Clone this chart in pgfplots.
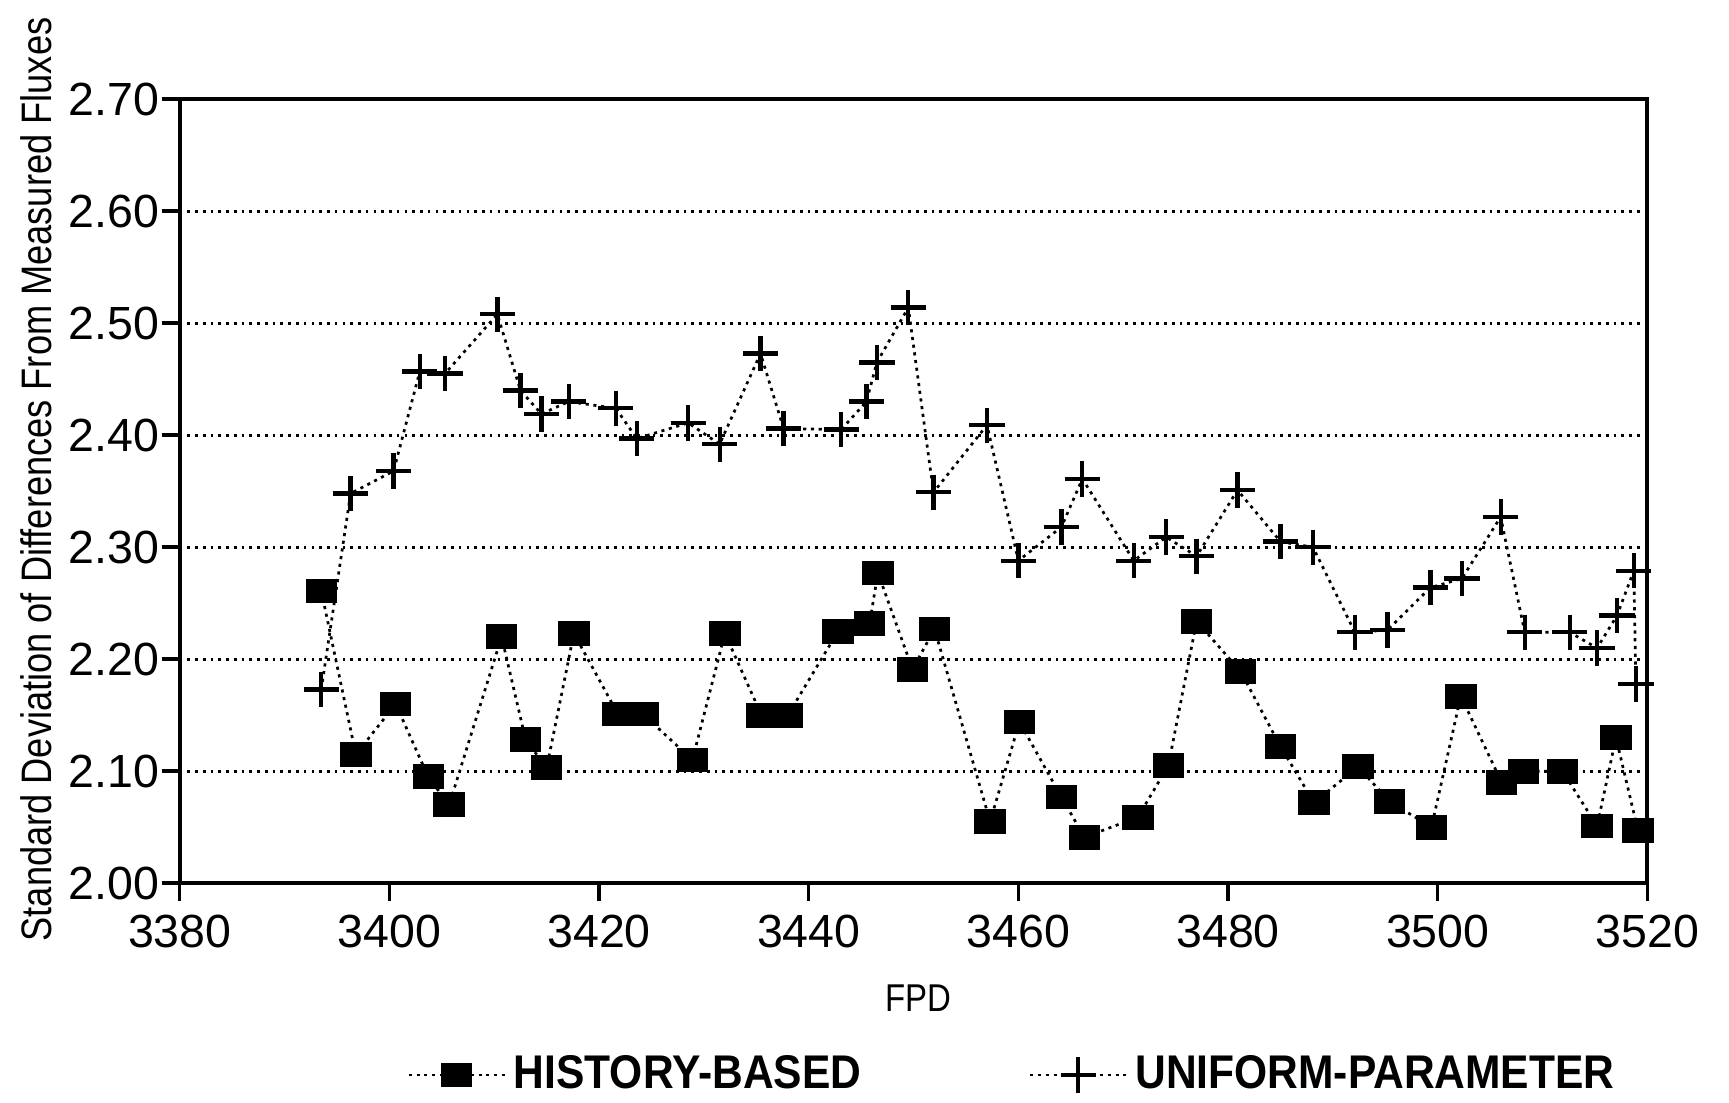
\documentclass[border=0pt]{standalone}
\usepackage{fontspec}
\setmainfont{Liberation Sans}
\newfontfamily\condfont[FakeStretch=0.85]{Liberation Sans}
\newfontfamily\legfont[FakeStretch=0.9]{Liberation Sans}
\usepackage{pgfplots}
\pgfplotsset{compat=1.18}
\pgfplotstableread{
x y
3393.5 2.261
3396.8 2.115
3400.6 2.160
3403.7 2.095
3405.7 2.070
3410.7 2.220
3413.0 2.128
3415.0 2.103
3417.6 2.223
3421.8 2.151
3424.2 2.151
3428.9 2.110
3432.0 2.223
3435.5 2.150
3438.0 2.150
3442.8 2.225
3445.8 2.232
3446.6 2.277
3449.9 2.191
3452.0 2.227
3457.3 2.055
3460.1 2.144
3464.1 2.077
3466.3 2.041
3471.4 2.059
3474.3 2.105
3477.0 2.234
3481.2 2.189
3485.0 2.122
3488.2 2.072
3492.4 2.104
3495.4 2.073
3499.4 2.050
3502.2 2.167
3506.1 2.090
3508.2 2.100
3511.9 2.100
3515.2 2.051
3517.0 2.130
3519.1 2.047
}\history
\pgfplotstableread{
x y
3393.5 2.173
3396.3 2.348
3400.4 2.368
3402.9 2.457
3405.3 2.455
3410.3 2.508
3412.5 2.440
3414.5 2.419
3417.1 2.430
3421.6 2.424
3423.6 2.397
3428.5 2.411
3431.5 2.392
3435.4 2.473
3437.6 2.406
3443.1 2.405
3445.5 2.430
3446.5 2.465
3449.5 2.514
3451.9 2.349
3457.0 2.409
3460.0 2.288
3464.1 2.318
3466.1 2.361
3471.0 2.288
3474.1 2.309
3477.0 2.292
3480.9 2.351
3485.0 2.305
3488.1 2.300
3492.1 2.224
3495.2 2.226
3499.3 2.264
3502.3 2.272
3506.0 2.327
3508.3 2.224
3512.6 2.224
3515.2 2.210
3517.1 2.239
3518.7 2.279
3518.9 2.178
}\uniform
\begin{document}
\begin{tikzpicture}
\begin{axis}[
  name=main,
  scale only axis, width=133.1mm, height=71.1mm,
  xmin=3380, xmax=3520, ymin=2.0, ymax=2.7,
  xtick={3380,3400,3420,3440,3460,3480,3500,3520},
  ytick={2.0,2.1,2.2,2.3,2.4,2.5,2.6,2.7},
  /pgf/number format/assume math mode=true,
  xticklabel style={/pgf/number format/set thousands separator={}},
  yticklabel style={/pgf/number format/.cd, fixed, fixed zerofill, precision=2, /tikz/.cd, xshift=1mm},
  tick label style={font=\fontsize{12}{14}\selectfont},
  tick align=outside, xtick pos=left, ytick pos=left,
  major tick length=1.6mm,
  tick style={line width=0.9pt, black},
  axis line style={line width=1pt},
  ymajorgrids,
  grid style={line width=0.7pt, black, dash pattern=on 0.7pt off 1.3pt},
  xlabel={FPD},
  ylabel={Standard Deviation of Differences From Measured Fluxes},
  every axis x label/.style={at={(axis description cs:0.503,0)}, anchor=center, yshift=-10.4mm, font=\condfont\fontsize{10}{12}\selectfont},
  every axis y label/.style={at={(axis description cs:-0.0977,0.515)}, rotate=90, anchor=center, font=\condfont\fontsize{11}{12}\selectfont},
  legend columns=2,
  legend style={draw=none, fill=none, inner sep=0pt, at={(axis description cs:0.569,0)}, anchor=center, yshift=-17.4mm,
    font=\legfont\bfseries\fontsize{12.2}{14}\selectfont,
    /tikz/every even column/.append style={column sep=14.5mm}},
  legend image code/.code={\draw[mark repeat=2,mark phase=2,#1] plot coordinates {(0mm,0mm) (4.35mm,0mm) (8.7mm,0mm)};},
]
\addplot[black, line width=0.7pt, dash pattern=on 0.8pt off 1.2pt, mark=square*, mark size=1.0mm,
  mark options={solid, xscale=1.3, fill=black}] table[x=x,y=y] {\history};
\addlegendentry{HISTORY-BASED}
\addplot[black, line width=0.7pt, dash pattern=on 0.8pt off 1.2pt, mark=+, mark size=1.6mm,
  mark options={solid, line width=1.1pt}] table[x=x,y=y] {\uniform};
\addlegendentry{UNIFORM-PARAMETER}
\end{axis}
\path (main.south west) ++(-16.3mm,-19.5mm);
\path (main.north east) ++(7.4mm,9mm);
\end{tikzpicture}
\end{document}
